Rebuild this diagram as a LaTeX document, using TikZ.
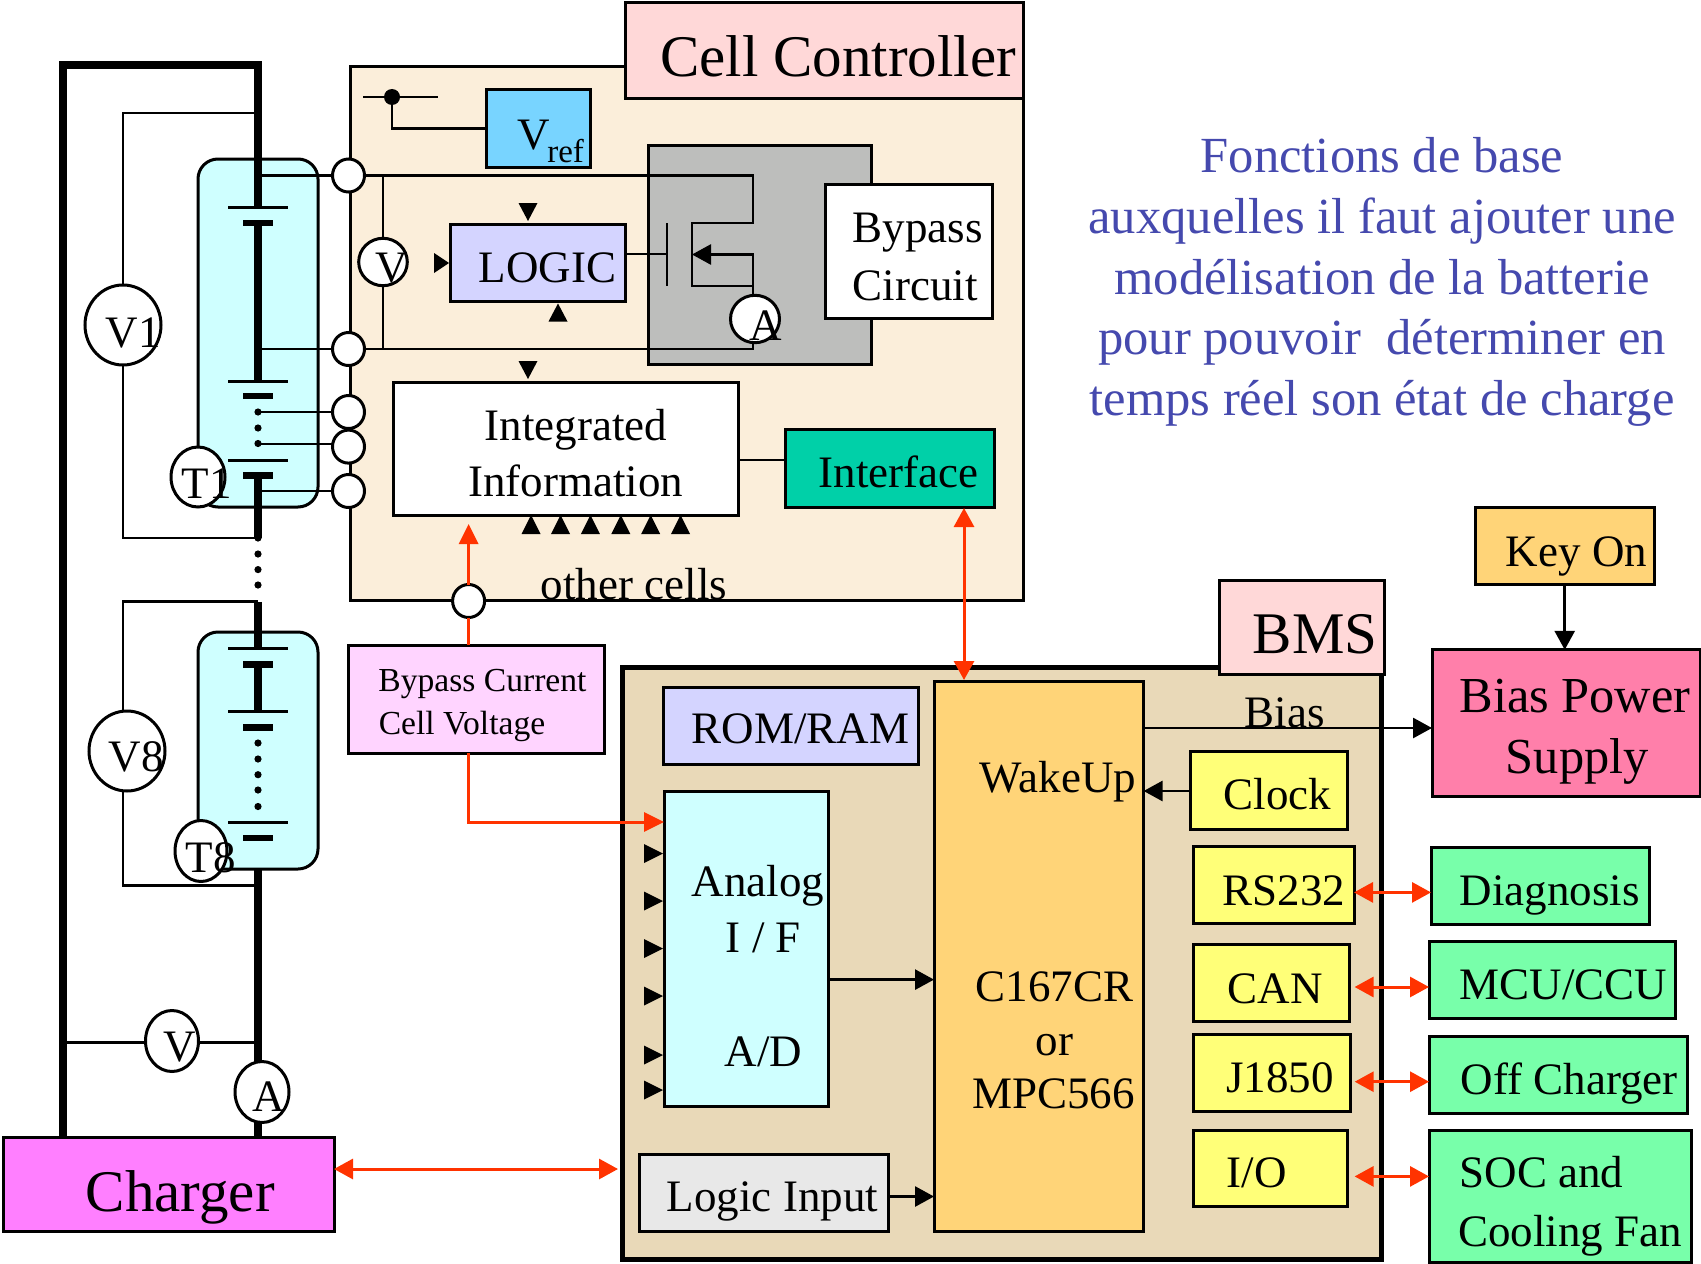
\documentclass[tikz,border=0pt]{standalone}
\usepackage{fontspec}
\setmainfont{Liberation Serif}
\usetikzlibrary{calc, arrows.meta, shapes.geometric}

\definecolor{panelcc}{HTML}{FBEEDA}
\definecolor{panelbms}{HTML}{E9D9B8}
\definecolor{tabpink}{HTML}{FFD8D8}
\definecolor{vrefblue}{HTML}{78D4FF}
\definecolor{fetgray}{HTML}{BDBEBC}
\definecolor{lilac}{HTML}{D4D4FF}
\definecolor{ifgreen}{HTML}{00D0A8}
\definecolor{cellcyan}{HTML}{CFFFFF}
\definecolor{coreorange}{HTML}{FFD478}
\definecolor{busyellow}{HTML}{FFFF78}
\definecolor{extgreen}{HTML}{78FFAA}
\definecolor{biaspink}{HTML}{FF7FAA}
\definecolor{chargermag}{HTML}{FF7FFF}
\definecolor{bypmag}{HTML}{FFD4FF}
\definecolor{inputgray}{HTML}{E8E8E8}
\definecolor{sigred}{HTML}{FF3300}
\definecolor{notecol}{HTML}{4549AE}

\begin{document}
\begin{tikzpicture}[
  x=0.5pt, y=-0.5pt,
  block/.style={draw, line width=1.5pt, inner sep=0pt, outer sep=0pt},
  cellbox/.style={block, fill=cellcyan, rounded corners=10pt, minimum width=60pt},
  meter/.style={draw, ellipse, fill=white, line width=1.5pt, inner sep=0pt, outer sep=0pt},
  port/.style={meter, minimum width=16pt, minimum height=16.5pt},
  txt/.style={anchor=base west, inner sep=0pt, xshift=-0.8pt, font=\fontsize{22.5}{26}\selectfont},
  txtbig/.style={txt, font=\fontsize{29.5}{34}\selectfont},
  txtsmall/.style={txt, font=\fontsize{16.8}{20}\selectfont},
  txtwide/.style={txt, font=\fontsize{25.2}{30}\selectfont},
  wire/.style={line width=1.4pt},
  bus/.style={line width=4pt},
  plateplus/.style={line width=1.5pt},
  plateminus/.style={line width=3.3pt},
  blackarr/.style={line width=1.4pt, -{Triangle[length=9.5pt, width=10pt]}},
  redarr/.style={sigred, line width=1.5pt, {Triangle[length=9.5pt, width=10pt]}-{Triangle[length=9.5pt, width=10pt]}},
  redone/.style={sigred, line width=1.5pt, -{Triangle[length=10pt, width=9.5pt]}},
]
\useasboundingbox (0,0) rectangle (1701,1263);

% Cell Controller
\node[block, fill=panelcc, minimum width=336.5pt, minimum height=266.5pt] (cellpanel) at (686.5,333.5) {};
\node[block, fill=tabpink, minimum width=199pt, minimum height=47.75pt] (celltab) at (824,50.75) {};
\node[block, fill=vrefblue, minimum width=52pt, minimum height=38.5pt] (vref) at (538,128.5) {};
\node[block, fill=fetgray, minimum width=111.5pt, minimum height=109.25pt] (fetbox) at (759.5,254.75) {};
\node[block, fill=white, minimum width=83.5pt, minimum height=66.7pt] (bypass) at (908.5,251.3) {};
\node[block, fill=lilac, minimum width=87.5pt, minimum height=38.5pt] (logic) at (537.5,262.5) {};
\node[block, fill=white, minimum width=172.25pt, minimum height=66.75pt] (integ) at (565.75,448.75) {};
\node[block, fill=ifgreen, minimum width=104.5pt, minimum height=39pt] (iface) at (889.5,468) {};

% BMS
\node[block, line width=2.5pt, fill=panelbms, minimum width=379.5pt, minimum height=296pt] (bmspanel) at (1001.5,963) {};
\node[block, fill=tabpink, minimum width=82.5pt, minimum height=47.2pt] (bmstab) at (1301.5,627.2) {};
\node[block, fill=coreorange, minimum width=104.8pt, minimum height=275.25pt] (core) at (1038.8,956.25) {};
\node[block, fill=lilac, minimum width=127.5pt, minimum height=38.5pt] (romram) at (790.5,725.5) {};
\node[block, fill=cellcyan, minimum width=82.3pt, minimum height=157.25pt] (analog) at (746.3,948.75) {};
\node[block, fill=inputgray, minimum width=124.8pt, minimum height=38.2pt] (logicin) at (763.8,1192.8) {};
\node[block, fill=busyellow, minimum width=78.5pt, minimum height=39pt] (clock) at (1269,790) {};
\node[block, fill=busyellow, minimum width=80.3pt, minimum height=38.5pt] (rsport) at (1273.7,884.5) {};
\node[block, fill=busyellow, minimum width=77.8pt, minimum height=38.5pt] (canport) at (1271.2,983.1) {};
\node[block, fill=busyellow, minimum width=78.7pt, minimum height=38.5pt] (jport) at (1272,1072.5) {};
\node[block, fill=busyellow, minimum width=77.2pt, minimum height=38.25pt] (ioport) at (1270.6,1168.25) {};

% blocs externes
\node[block, fill=extgreen, minimum width=109pt, minimum height=38.5pt] (diag) at (1540,885.5) {};
\node[block, fill=extgreen, minimum width=123.25pt, minimum height=38.45pt] (mcu) at (1552.25,980.15) {};
\node[block, fill=extgreen, minimum width=129pt, minimum height=38.5pt] (offchg) at (1558,1074.5) {};
\node[block, fill=extgreen, minimum width=131.25pt, minimum height=66pt] (socfan) at (1560.25,1196) {};
\node[block, fill=coreorange, minimum width=89.7pt, minimum height=38.45pt] (keyon) at (1564.7,546.25) {};
\node[block, fill=biaspink, minimum width=134pt, minimum height=73.45pt] (biaspw) at (1566,723.25) {};
\node[block, fill=bypmag, minimum width=128pt, minimum height=54pt] (bypcur) at (476,699) {};
\node[block, fill=chargermag, minimum width=165.5pt, minimum height=47pt] (charger) at (168.5,1184.5) {};

% modules de cellules
\node[cellbox, minimum height=174pt] (cella) at (258,333) {};
\node[cellbox, minimum height=118.5pt] (cellb) at (258,750.5) {};

% barres de puissance
\draw[bus] (63,1137.5) -- (63,65) -- (258,65) -- (258,207.5);
\draw[bus] (258,223) -- (258,381);
\draw[bus] (258,475.5) -- (258,538);
\draw[bus] (258,601.8) -- (258,648.8);
\draw[bus] (258,664.5) -- (258,711.5);
\draw[bus] (258,869) -- (258,1137.5);

% plaques
\draw[plateplus] (228,207.5) -- (288,207.5);
\draw[plateminus] (243,223) -- (273,223);
\draw[plateplus] (228,381) -- (288,381);
\draw[plateminus] (243,396) -- (273,396);
\draw[plateplus] (228,460) -- (288,460);
\draw[plateminus] (243,475.5) -- (273,475.5);
\draw[plateplus] (228,648.8) -- (288,648.8);
\draw[plateminus] (243,664.5) -- (273,664.5);
\draw[plateplus] (228,711.5) -- (288,711.5);
\draw[plateminus] (243,727.6) -- (273,727.6);
\draw[plateplus] (228,822) -- (288,822);
\draw[plateminus] (243,838) -- (273,838);

% pointilles
\fill (258,412) circle (1.8pt) (258,428) circle (1.8pt) (258,443.5) circle (1.8pt);
\fill (258,538) circle (1.8pt) (258,554) circle (1.8pt) (258,569.6) circle (1.8pt) (258,585) circle (1.8pt);
\fill (258,743) circle (1.8pt) (258,759) circle (1.8pt) (258,774.7) circle (1.8pt) (258,790) circle (1.8pt) (258,806.5) circle (1.8pt);

% appareils de mesure
\node[meter, minimum width=38pt, minimum height=40pt] (vone) at (123,325) {};
\node[meter, minimum width=38pt, minimum height=40pt] (veight) at (127,751) {};
\node[meter, minimum width=27pt, minimum height=30pt] (tone) at (198,477) {};
\node[meter, minimum width=26pt, minimum height=30.5pt] (teight) at (201,851) {};
\node[meter, minimum width=26.5pt, minimum height=30.5pt] (vbat) at (172,1041) {};
\node[meter, minimum width=27pt, minimum height=30.5pt] (abat) at (262,1092) {};
\node[meter, minimum width=24.3pt, minimum height=23.7pt] (vcell) at (383,262) {};
\node[meter, minimum width=24.5pt, minimum height=23.7pt] (afet) at (755,319) {};

% bornes
\node[port] (pina) at (348.5,175.5) {};
\node[port] (pinb) at (348.5,349) {};
\node[port] (pinc) at (348.5,412) {};
\node[port] (pind) at (348.5,446.6) {};
\node[port] (pine) at (348.5,491) {};
\node[port] (pinout) at (468.6,601) {};

% points de passage
\coordinate (voneT) at (258,113);
\coordinate (voneB) at (258,538);
\coordinate (veightT) at (258,601.8);
\coordinate (veightB) at (258,885.7);
\coordinate (veightTL) at (123,601.8);
\coordinate (veightBL) at (123,885.7);
\coordinate (drain) at (753,175.5);
\coordinate (chanT) at (692,223);
\coordinate (chanB) at (692,286);
\coordinate (source) at (753,286);
\coordinate (senseN) at (753,254.5);
\coordinate (chanM) at (692,254.5);
\coordinate (gateT) at (667,223);
\coordinate (gateB) at (667,286);
\coordinate (refL) at (363,97);
\coordinate (refR) at (438,97);
\coordinate (refD) at (392,97);

% fils de mesure
\draw[wire] (voneT) -| (vone.north);
\draw[wire] (vone.south) |- (voneB);
\draw[wire] (veightT) -- (veightTL) -- (veight.north -| veightTL);
\draw[wire] (veight.south -| veightBL) -- (veightBL) -- (veightB);
\draw[wire] (63,1042.5) -- (vbat.west |- 0,1042.5);
\draw[wire] (vbat.east |- 0,1042.5) -- (258,1042.5);

% fils vers les bornes
\draw[wire] (258,175.5) -- (pina.west);
\draw[wire] (258,349) -- (pinb.west);
\draw[wire] (258,412) -- (pinc.west);
\draw[wire] (258,444) -- (pind.west |- 0,444);
\draw[wire] (258,491) -- (pine.west);

% circuit de derivation
\draw[wire] (pina.east) -- (drain) |- (chanT) -- (chanB) -- (source);
\draw[wire] (source) -- (source |- afet.north);
\draw[wire] (afet.south -| source) |- (pinb.east);
\draw[wire] (gateT) -- (gateB);
\draw[wire] (logic.east |- 0,254) -- (gateT |- 0,254);
\draw[blackarr] (source) -- (senseN) -- (chanM);
\draw[wire] (vcell.north) -- (vcell.north |- pina.east);
\draw[wire] (vcell.south) -- (vcell.south |- pinb.east);

% reference
\draw[wire] (refL) -- (refR);
\fill (refD) circle (4pt);
\draw[wire] (refD) |- (vref.west);
\draw[wire] (integ.east |- 0,460) -- (iface.west |- 0,460);

% triangles d'entree
\fill (528,221) -- ++(-9.5,-18) -- ++(19,0) -- cycle;
\fill (528,379) -- ++(-9.5,-18) -- ++(19,0) -- cycle;
\fill (558,303.5) -- ++(-9.5,18) -- ++(19,0) -- cycle;
\fill (449,263) -- ++(-15,-10) -- ++(0,20) -- cycle;
\fill (531,515) -- ++(-9.5,19) -- ++(19,0) -- cycle;
\fill (560.5,515) -- ++(-9.5,19) -- ++(19,0) -- cycle;
\fill (590.4,515) -- ++(-9.5,19) -- ++(19,0) -- cycle;
\fill (620.8,515) -- ++(-9.5,19) -- ++(19,0) -- cycle;
\fill (650.7,515) -- ++(-9.5,19) -- ++(19,0) -- cycle;
\fill (680.6,515) -- ++(-9.5,19) -- ++(19,0) -- cycle;
\fill (663,853.5) -- ++(-19,-9.5) -- ++(0,19) -- cycle;
\fill (663,901) -- ++(-19,-9.5) -- ++(0,19) -- cycle;
\fill (663,948.5) -- ++(-19,-9.5) -- ++(0,19) -- cycle;
\fill (663,996) -- ++(-19,-9.5) -- ++(0,19) -- cycle;
\fill (663,1055) -- ++(-19,-9.5) -- ++(0,19) -- cycle;
\fill (663,1090) -- ++(-19,-9.5) -- ++(0,19) -- cycle;

% liaisons noires
\draw[blackarr] (analog.east |- 0,979.6) -- (core.west |- 0,979.6);
\draw[blackarr] (logicin.east |- 0,1196.5) -- (core.west |- 0,1196.5);
\draw[blackarr] (clock.west |- 0,791) -- (core.east |- 0,791);
\draw[blackarr] (core.east |- 0,728) -- (biaspw.west |- 0,728);
\draw[blackarr] (keyon.south) -- (keyon.south |- biaspw.north);

% liaisons rouges
\draw[sigred, line width=1.5pt] (pinout |- bypcur.north) -- (pinout.south);
\draw[redone] (pinout.north) -- (pinout |- 0,524);
\draw[redone] (pinout |- bypcur.south) |- (analog.west |- 0,822);
\draw[redarr] (964,508) -- (964,680);
\draw[redarr, shorten >=2pt] (charger.east |- 0,1169) -- (bmspanel.west |- 0,1169);
\draw[redarr] (rsport.east |- 0,892.4) -- (diag.west |- 0,892.4);
\draw[redarr, shorten <=2.8pt] (canport.east |- 0,987) -- (mcu.west |- 0,987);
\draw[redarr, shorten <=2pt] (jport.east |- 0,1081.7) -- (offchg.west |- 0,1081.7);
\draw[redarr, shorten <=3.4pt] (ioport.east |- 0,1176.4) -- (socfan.west |- 0,1176.4);

% textes
\node[txtbig] (tcell) at (661.4,77) {Cell Controller};
\node[txt] (tvref) at (519,149) {V\kern-1.5pt\raisebox{-6.5pt}{\fontsize{16.5}{20}\selectfont ref}};
\node[txt] (tbyp) at (854,242) {Bypass};
\node[txt] (tcirc) at (854,300) {Circuit};
\node[txt] (tlogic) at (480,282.6) {LOGIC};
\node[txt] (tinteg) at (486,440.7) {Integrated};
\node[txt] (tinfo) at (469.5,496) {Information};
\node[txt] (tiface) at (820,487) {Interface};
\node[txt] (tother) at (542,599) {other cells};
\node[txt] (tvone) at (107,347) {V1};
\node[txt] (ttone) at (183,498) {T1};
\node[txt] (tvcell) at (377,282.6) {V};
\node[txt] (tafet) at (750.7,340) {A};
\node[txt] (tveight) at (110,771.6) {V8};
\node[txt] (tteight) at (187,872.7) {T8};
\node[txt] (tvbat) at (165,1061) {V};
\node[txt] (tabat) at (254,1111) {A};
\node[txtbig] (tcharger) at (87,1211) {Charger};
\node[txtsmall] (tbypcur) at (379.6,691) {Bypass Current};
\node[txtsmall] (tcellv) at (380,734.6) {Cell Voltage};
\node[txtbig] (tbms) at (1254,653) {BMS};
\node[txt] (tbias) at (1246,727) {Bias};
\node[txt] (trom) at (693,743) {ROM/RAM};
\node[txt] (tanalog) at (693,896.5) {Analog};
\node[txt] (tif) at (727,952) {I / F};
\node[txt] (tad) at (726,1066) {A/D};
\node[txt] (tlogicin) at (668,1211) {Logic Input};
\node[txt] (twake) at (981,792.7) {WakeUp};
\node[txt] (tchip) at (977,1001.5) {C167CR};
\node[txt] (tor) at (1037,1055) {or};
\node[txt] (tmpc) at (973.6,1108) {MPC566};
\node[txt] (tclock) at (1224.7,809.5) {Clock};
\node[txt] (trs) at (1224,905) {RS232};
\node[txt] (tcan) at (1229,1003) {CAN};
\node[txt] (tj) at (1227.6,1092.6) {J1850};
\node[txt] (tio) at (1228,1187.7) {I/O};
\node[txt] (tdiag) at (1460.7,905) {Diagnosis};
\node[txt] (tmcu) at (1460.7,999) {MCU/CCU};
\node[txt] (toff) at (1462,1094) {Off Charger};
\node[txt] (tsoc) at (1460.7,1187.7) {SOC and};
\node[txt] (tfan) at (1459.6,1246) {Cooling Fan};
\node[txt] (tkey) at (1507,566.4) {Key On};
\node[txtwide] (tbiasp) at (1460.7,712) {Bias Power};
\node[txtwide] (tsupply) at (1507,773) {Supply};

% note
\node[align=center, inner sep=0pt, text=notecol, font=\fontsize{25.3}{30.4}\selectfont] (tnote) at (1382,282)
  {Fonctions de base\\auxquelles il faut ajouter une\\modélisation de la batterie\\pour pouvoir~ déterminer en\\temps réel son état de charge};

\end{tikzpicture}
\end{document}
